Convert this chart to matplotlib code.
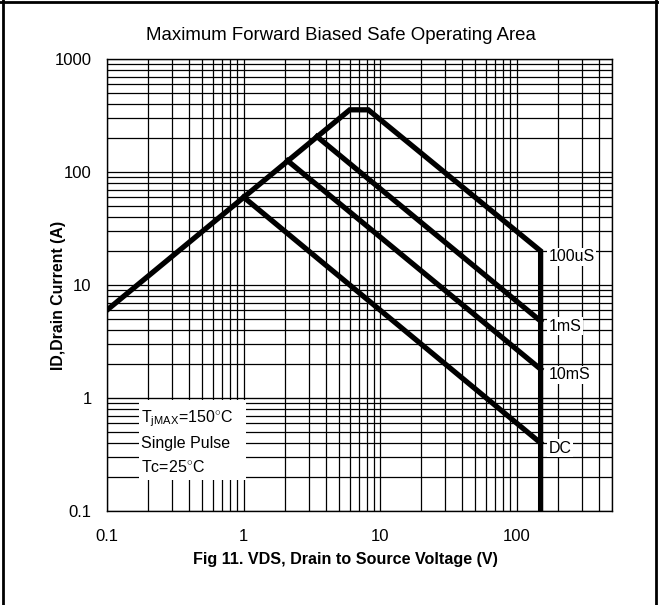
import matplotlib
matplotlib.use("Agg")
import matplotlib.pyplot as plt
from matplotlib.patches import Rectangle

# ---- data (V, A) ----------------------------------------------------------
vds_100us = [0.1, 6.0, 8.2, 150, 150]
id_100us = [6.0, 355, 355, 20, 0.1]
vds_1ms = [3.45, 150]
id_1ms = [206, 4.8]
vds_10ms = [2.1, 150]
id_10ms = [126, 1.8]
vds_dc = [1.0, 150]
id_dc = [60, 0.4]

curve_labels = ["100uS", "1mS", "10mS", "DC"]
label_y = [17.8, 4.3, 1.6, 0.36]
label_x = 172

yticks = [0.1, 1, 10, 100, 1000]
ytick_labels = ["0.1", "1", "10", "100", "1000"]
xticks = [0.1, 1, 10, 100]
xtick_labels = ["0.1", "1", "10", "100"]

font = "Liberation Sans"
plt.rcParams["font.family"] = [font, "DejaVu Sans"]
plt.rcParams["mathtext.fontset"] = "custom"
plt.rcParams["mathtext.rm"] = font
plt.rcParams["mathtext.it"] = font

fig = plt.figure(figsize=(6.59, 6.05), dpi=100)
ax = fig.add_axes([107 / 659, 1 - 511 / 605, 505 / 659, 452 / 605])
ax.set_xscale("log")
ax.set_yscale("log")
ax.set_xlim(0.1, 500)
ax.set_ylim(0.1, 1000)

ax.grid(True, which="both", color="black", lw=0.9)
ax.axhline(1, color="0.72", lw=1.0, zorder=1.5)
for s in ax.spines.values():
    s.set_linewidth(1.0)
ax.tick_params(which="both", length=0)
ax.tick_params(axis="y", pad=11, labelsize=12)
ax.tick_params(axis="x", pad=13, labelsize=12)
ax.set_xticks(xticks, xtick_labels)
ax.set_yticks(yticks, ytick_labels)
ax.minorticks_on()
ax.tick_params(which="minor", labelbottom=False, labelleft=False)

lw = 3.8
for vx, iy in [(vds_100us, id_100us), (vds_1ms, id_1ms),
               (vds_10ms, id_10ms), (vds_dc, id_dc)]:
    ax.plot(vx, iy, color="black", lw=lw, solid_joinstyle="miter", zorder=4)

for lab, yy in zip(curve_labels, label_y):
    ax.text(label_x, yy, lab, fontsize=11.5, ha="left", va="center", zorder=5,
            bbox=dict(fc="white", ec="none", pad=1))

# white note box over the grid
ax.add_patch(Rectangle((0.172, 0.19), 1.05 - 0.172, 0.96 - 0.19, fc="white",
                       ec="none", zorder=3))
ax.text(0.176, 0.66, r"T$_{\mathrm{jMAX}}$=150$^{\circ}$C", fontsize=11.5, va="center", zorder=5)
ax.text(0.176, 0.395, "Single Pulse", fontsize=11.5, va="center", zorder=5)
ax.text(0.176, 0.245, r"Tc=25$^{\circ}$C", fontsize=11.5, va="center", zorder=5)

ax.set_xlabel("Fig 11. VDS, Drain to Source Voltage (V)", fontsize=11.6, fontweight="bold")
ax.xaxis.set_label_coords(0.473, -0.09)
ax.set_ylabel("ID,Drain Current (A)", fontsize=11.4, fontweight="bold")
ax.yaxis.set_label_coords(-0.082, 0.478)

fig.text(341 / 659, 1 - 36 / 605, "Maximum Forward Biased Safe Operating Area",
         fontsize=13.4, ha="center", va="center")

# frame around the figure (left, top, right)
fig.add_artist(plt.Line2D([3 / 659, 3 / 659], [0, 1], color="black", lw=2))
fig.add_artist(plt.Line2D([0, 1], [1 - 2 / 605, 1 - 2 / 605], color="black", lw=2))
fig.add_artist(plt.Line2D([656 / 659, 656 / 659], [0, 1], color="black", lw=2))

fig.savefig("out.png", dpi=100)
